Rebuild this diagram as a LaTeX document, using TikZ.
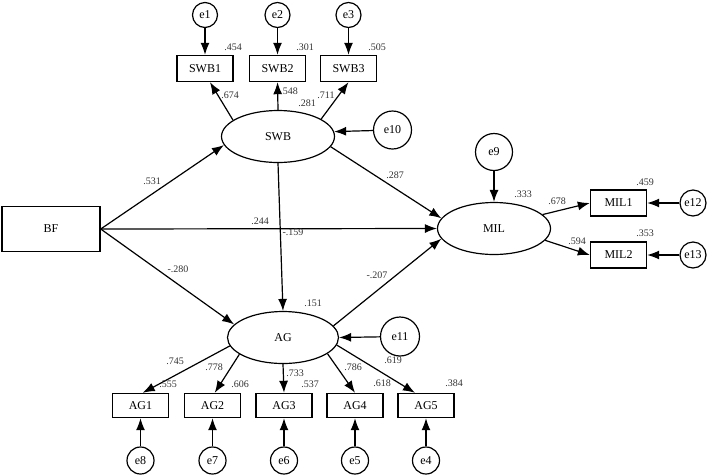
\documentclass[tikz,border=0pt]{standalone}
\usepackage{fontspec}
\setmainfont{Liberation Serif}
\usetikzlibrary{shapes.geometric,arrows.meta}
\tikzset{
	obs/.style={draw, line width=1.4pt, minimum width=56pt, minimum height=26pt, inner sep=0pt, font=\fontsize{12}{12}\selectfont},
	lat/.style={draw, ellipse, line width=1.2pt, minimum width=113pt, minimum height=52pt, inner sep=0pt, font=\fontsize{12}{12}\selectfont},
	err/.style={draw, circle, line width=1.2pt, inner sep=0pt, font=\fontsize{12}{12}\selectfont},
	coef/.style={inner sep=0pt, font=\fontsize{10}{10}\selectfont, text=black!80}
}
\begin{document}
\begin{tikzpicture}[x=1pt, y=-1pt, >={Latex[length=12pt,width=9pt]}, line width=1.2pt]
		\useasboundingbox (0,0) rectangle (709,475);
		%Latenti
		\node [lat] (SWB) at (278,136.5) {SWB};
		\node [lat] (MIL) at (494,228.5) {MIL};
		\node [lat, minimum width=111pt] (AG) at (283,337.5) {AG};
		\node [obs, minimum width=98pt, minimum height=45pt] (BF) at (51,229) {BF};
		%Indicatori
		\node [obs] (SWB1) at (205,68.5) {SWB1};
		\node [obs] (SWB2) at (277.5,68.5) {SWB2};
		\node [obs] (SWB3) at (348.5,68.5) {SWB3};
		\node [obs] (MIL1) at (618.5,203) {MIL1};
		\node [obs] (MIL2) at (618.5,255) {MIL2};
		\node [obs, minimum height=24pt] (AG1) at (140.5,405.5) {AG1};
		\node [obs, minimum height=24pt] (AG2) at (212.5,405.5) {AG2};
		\node [obs, minimum height=24pt] (AG3) at (284,405.5) {AG3};
		\node [obs, minimum height=24pt] (AG4) at (355,405.5) {AG4};
		\node [obs, minimum height=24pt] (AG5) at (426,405.5) {AG5};
		%Errori
		\node [err, minimum size=25pt] (e1) at (205,15) {e1};
		\node [err, minimum size=25pt] (e2) at (277.5,15) {e2};
		\node [err, minimum size=25pt] (e3) at (348.5,15) {e3};
		\node [err, minimum size=38pt] (e10) at (392.5,130) {e10};
		\node [err, minimum size=37pt] (e9) at (494,152) {e9};
		\node [err, minimum size=39pt] (e11) at (400,336.5) {e11};
		\node [err, minimum size=26pt] (e12) at (693,203) {e12};
		\node [err, minimum size=26pt] (e13) at (693,255) {e13};
		\node [err, minimum size=27pt] (e8) at (140.5,460.5) {e8};
		\node [err, minimum size=27pt] (e7) at (212.5,460.5) {e7};
		\node [err, minimum size=27pt] (e6) at (284,460.5) {e6};
		\node [err, minimum size=27pt] (e5) at (355,460.5) {e5};
		\node [err, minimum size=27pt] (e4) at (426,460.5) {e4};
		%Percorsi
		\draw [->] (BF.east) -- (SWB.189);
		\draw [->] (BF.east) -- (MIL.west);
		\draw [->] (BF.east) -- (AG.165);
		\draw [->] (SWB.-11) -- (MIL.169);
		\draw [->] (SWB.south) -- (AG.north);
		\draw [->] (AG.13) -- (MIL.191);
		%Carichi
		\draw [->] (SWB.160) -- (SWB1.-70);
		\draw [->] (SWB.north) -- (SWB2.south);
		\draw [->] (SWB.22) -- (SWB3.south);
		\draw [->] (MIL.16) -- (MIL1.west);
		\draw [->] (MIL.-13) -- (MIL2.west);
		\draw [->] (AG.189) -- (AG1.80);
		\draw [->] (AG.201) -- (AG2.80);
		\draw [->] (AG.south) -- (AG3.north);
		\draw [->] (AG.-20) -- (AG4.north);
		\draw [->] (AG.-8.5) -- (AG5.131);
		%Residui
		\draw [->] (e1) -- (SWB1);
		\draw [->] (e2) -- (SWB2);
		\draw [->] (e3) -- (SWB3);
		\draw [->] (e10) -- (SWB.5);
		\draw [->] (e9) -- (MIL.north);
		\draw [->] (e11) -- (AG.east);
		\draw [->] (e12) -- (MIL1);
		\draw [->] (e13) -- (MIL2);
		\draw [->] (e8) -- (AG1);
		\draw [->] (e7) -- (AG2);
		\draw [->] (e6) -- (AG3);
		\draw [->] (e5) -- (AG4);
		\draw [->] (e4) -- (AG5);
		%Coefficienti
		\node [coef] (r1) at (233,47) {.454};
		\node [coef] (r2) at (305,47) {.301};
		\node [coef] (r3) at (377,47) {.505};
		\node [coef] (l1) at (230,95) {.674};
		\node [coef] (l2) at (289,91) {.548};
		\node [coef] (rswb) at (307,103) {.281};
		\node [coef] (l3) at (326,95) {.711};
		\node [coef] (b1) at (152,181) {.531};
		\node [coef] (b2) at (260,221) {.244};
		\node [coef] (b3) at (293,232) {-.159};
		\node [coef] (b4) at (178,269) {-.280};
		\node [coef] (b5) at (395,175) {.287};
		\node [coef] (b6) at (377,275) {-.207};
		\node [coef] (rmil) at (523,194) {.333};
		\node [coef] (l4) at (557,201) {.678};
		\node [coef] (l5) at (577,241) {.594};
		\node [coef] (r4) at (645,182) {.459};
		\node [coef] (r5) at (645,233) {.353};
		\node [coef] (rag) at (313,303) {.151};
		\node [coef] (l6) at (175,361) {.745};
		\node [coef] (l7) at (214,367) {.778};
		\node [coef] (l8) at (295,373) {.733};
		\node [coef] (l9) at (353,367) {.786};
		\node [coef] (l10) at (393,360) {.619};
		\node [coef] (r6) at (168,384) {.555};
		\node [coef] (r7) at (240,384) {.606};
		\node [coef] (r8) at (310,384) {.537};
		\node [coef] (r9) at (382,383) {.618};
		\node [coef] (r10) at (454,383) {.384};
\end{tikzpicture}
\end{document}
